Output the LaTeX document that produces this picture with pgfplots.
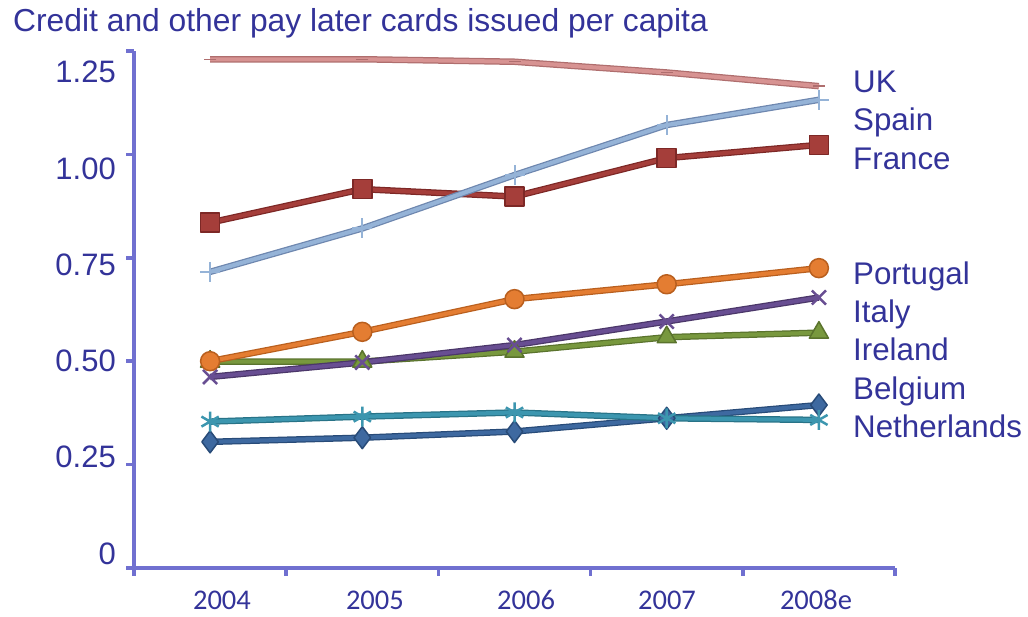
\documentclass[border=0pt]{standalone}
\usepackage{fontspec}
\setmainfont{Liberation Sans}
\newfontfamily\yearfont{Carlito}
\usepackage{pgfplots}
\usepackage{pgfplotstable}
\pgfplotsset{compat=1.18}

\definecolor{txt}{RGB}{51,51,153}
\definecolor{axisc}{RGB}{112,112,208}
\definecolor{ukL}{RGB}{215,147,146}\definecolor{ukD}{RGB}{175,110,110}
\definecolor{esL}{RGB}{149,179,215}\definecolor{esD}{RGB}{110,135,175}
\definecolor{frL}{RGB}{165,62,58}\definecolor{frD}{RGB}{125,40,38}
\definecolor{ptL}{RGB}{228,125,50}\definecolor{ptD}{RGB}{185,95,30}
\definecolor{itL}{RGB}{104,78,146}\definecolor{itD}{RGB}{75,55,105}
\definecolor{ieL}{RGB}{120,152,62}\definecolor{ieD}{RGB}{90,115,45}
\definecolor{beL}{RGB}{62,105,160}\definecolor{beD}{RGB}{40,75,120}
\definecolor{nlL}{RGB}{60,150,175}\definecolor{nlD}{RGB}{40,115,135}

% cards per capita, one row per year (x = category centre)
\pgfplotstableread{
x   UK    Spain France Portugal Italy Ireland Belgium Netherlands
0.5 1.230 0.716 0.835  0.500    0.462 0.499   0.305   0.354
1.5 1.230 0.821 0.916  0.571    0.497 0.499   0.315   0.366
2.5 1.224 0.950 0.898  0.650    0.539 0.523   0.330   0.376
3.5 1.198 1.071 0.991  0.686    0.596 0.558   0.362   0.362
4.5 1.165 1.132 1.023  0.725    0.654 0.569   0.394   0.358
}\cardsdata

% #1 column, #2 line colour, #3 outline colour, #4 marker style
\newcommand{\series}[4]{%
  \addplot[#3, line width=6.5pt, line join=round, forget plot] table[x=x, y=#1]{\cardsdata};
  \addplot[#2, line width=4pt, line join=round, #4] table[x=x, y=#1]{\cardsdata};
}

\begin{document}
\begin{tikzpicture}[x=1pt, y=1pt]
\useasboundingbox (0,0) rectangle (1028,617);
\node[anchor=base west, inner sep=0pt, text=txt, font=\fontsize{31.8}{36}\selectfont]
  at (13,585.5) {Credit and other pay later cards issued per capita};
\begin{axis}[
  at={(134pt,49pt)}, anchor=south west,
  scale only axis, width=761pt, height=517pt,
  xmin=0, xmax=5, ymin=0, ymax=1.25,
  axis x line=bottom, axis y line=left,
  axis line style={axisc, line width=3.5pt, -},
  tick align=outside,
  xtick={0.578,1.583,2.576,3.502,4.481},
  xticklabels={2004,2005,2006,2007,2008e},
  ytick={0.0338,0.2684,0.5005,0.7338,0.9647,1.1992},
  yticklabels={0,0.25,0.50,0.75,1.00,1.25},
  major tick length=0pt,
  extra x ticks={0,1,2,3,4,5}, extra x tick labels={},
  extra y ticks={0,0.25,0.5,0.75,1,1.25}, extra y tick labels={},
  extra tick style={major tick length=8pt, tick style={axisc, line width=3.5pt}},
  x tick label style={font=\yearfont\fontsize{28.5}{32}\selectfont, text=txt, anchor=base, inner sep=0pt, yshift=-42pt},
  y tick label style={font=\fontsize{31}{34}\selectfont, text=txt, anchor=east, inner sep=0pt, xshift=-18pt},
  clip=false,
]
\series{Belgium}{beL}{beD}{mark=diamond*, mark size=11pt, mark options={fill=beL, draw=beD, line width=1.5pt}}
\series{Netherlands}{nlL}{nlD}{mark=asterisk, mark size=10pt, mark options={nlL, line width=2.5pt}}
\series{Ireland}{ieL}{ieD}{mark=triangle*, mark size=11pt, mark options={fill=ieL, draw=ieD, line width=1.5pt}}
\series{Italy}{itL}{itD}{mark=x, mark size=10pt, mark options={itL, line width=2.5pt}}
\series{Portugal}{ptL}{ptD}{mark=*, mark size=9.5pt, mark options={fill=ptL, draw=ptD, line width=1.5pt}}
\series{France}{frL}{frD}{mark=square*, mark size=9.5pt, mark options={fill=frL, draw=frD, line width=1.5pt}}
\series{Spain}{esL}{esD}{mark=+, mark size=10pt, mark options={esL, line width=2pt}}
\series{UK}{ukL}{ukD}{mark=-, mark size=6pt, mark options={ukD, line width=1.5pt}}
\end{axis}
\begin{scope}[every node/.style={anchor=base west, inner sep=0pt, text=txt, font=\fontsize{31.3}{34}\selectfont}]
\node at (853,524.3) {UK};
\node at (853,486.0) {Spain};
\node at (853,447.7) {France};
\node at (853,332.8) {Portugal};
\node at (853,294.5) {Italy};
\node at (853,256.2) {Ireland};
\node at (853,217.9) {Belgium};
\node at (853,179.6) {Netherlands};
\end{scope}
\end{tikzpicture}
\end{document}
